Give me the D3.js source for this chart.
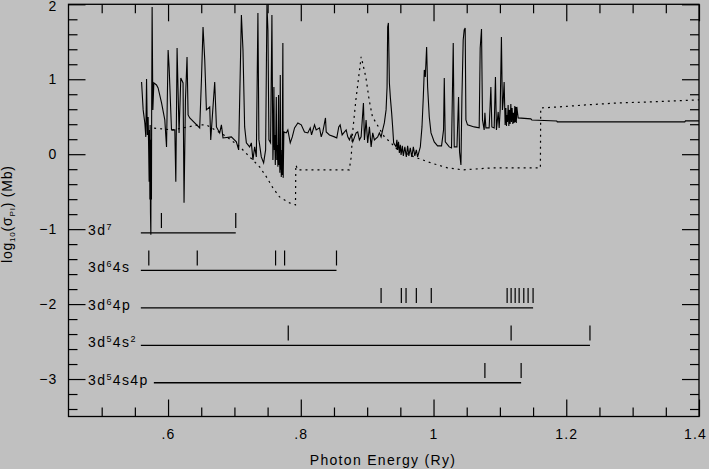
<!DOCTYPE html>
<html>
<head>
<meta charset="utf-8">
<script src="https://cdn.jsdelivr.net/npm/d3@7/dist/d3.min.js"></script>
<style>
  body { margin: 0; background: #c0c0c0; }
  svg { display: block; }
</style>
</head>
<body>
<svg id="chart" width="709" height="469"></svg>
<script>
// photoionization cross section (log10 Mb) vs photon energy (Ry)
var energy = [
  0.5601,0.5625,0.565,0.5665,0.5676,0.5688,0.570,0.5708,0.5715,0.5721,0.5726,0.5730,0.5735,0.5741,0.5745,0.575,0.5753,0.576,0.5771,0.5786,
  0.5826,0.585,0.5902,0.5951,0.5977,0.6001,0.6016,0.6052,0.6102,0.6117,0.6136,0.6166,0.6192,0.6226,0.6241,
  0.6262,0.6286,0.6302,0.6327,0.6477,0.6503,0.6527,0.6553,0.6578,0.6628,0.6643,0.6703,0.6729,0.6778,0.6804,
  0.6828,0.6954,0.7029,0.7064,0.7105,0.7129,0.7154,0.718,0.7229,0.7255,0.7279,0.7305,0.733,0.7354,0.7369,
  0.7405,0.744,0.747,0.749,0.7505,0.752,0.7545,0.7565,
  0.758,0.7587,0.7595,0.7602,0.7608,0.7616,0.7623,0.7631,0.7638,0.7646,0.7655,0.7665,0.7672,0.7678,0.7685,0.7691,0.7697,0.7702,0.7706,0.7712,0.7718,0.773,0.7735,0.7745,
  0.7781,0.7805,0.7841,0.7872,0.7906,0.7956,0.8007,0.8056,0.8106,0.8142,
  0.8162,0.8207,0.8232,0.8282,0.8308,0.8332,0.8372,0.8383,0.8432,0.8508,0.8542,0.8572,0.8593,0.8623,0.8647,
  0.8684,0.8708,0.8733,0.8759,0.8783,0.8834,0.8858,0.8883,0.8909,0.8944,0.8959,0.8984,0.9008,0.9034,0.906,
  0.9084,0.9109,0.9159,0.9184,0.921,0.9234,0.9259,0.9285,0.93,0.9309,0.932,0.9335,0.935,0.9369,0.9384,
  0.9399,0.9435,0.9448,0.9459,0.9473,0.9485,0.95,0.9511,0.953,0.9545,0.9568,0.959,0.961,0.9628,0.965,
  0.9673,0.9696,0.9718,0.9741,0.976,0.9801,0.9826,0.9846,0.9861,0.9876,0.9896,0.9911,0.9936,0.9962,1.0011,
  1.0061,1.0121,1.0151,1.0162,1.0177,1.0237,1.0271,1.0297,1.0312,1.0353,1.0377,1.0392,1.0413,1.0428,1.0447,
  1.0462,1.0477,1.0488,1.0512,1.0613,1.0688,1.0703,1.0723,1.0738,1.0763,1.0774,1.0789,1.0838,1.0853,1.0864,
  1.0879,1.0914,1.0933,1.0948,1.0974,1.0989,1.1004,1.1023,1.1038,1.1049,1.1064,
  1.1079,1.109,1.1099,1.1105,1.1114,1.1124,1.1135,1.1144,1.1154,1.1165,1.1174,1.1184,1.1195,1.1204,1.1214,1.1225,1.1232,1.124,1.1247,1.1255,1.1275,
  1.1466,1.1481,1.1856,1.1865,1.3786,1.3796,1.4];
var logSigma = [
  0.964,0.591,0.417,0.231,1.004,0.257,0.497,0.057,-0.369,0.324,-0.604,0.391,-0.778,-1.076,0.191,-0.604,0.591,1.964,0.591,0.951,
  0.924,0.884,0.684,0.457,0.097,1.391,1.164,0.324,0.324,-0.369,1.417,0.284,1.017,0.951,-0.649,
  0.724,1.297,0.524,0.484,0.351,0.991,1.697,1.257,0.591,0.631,0.191,0.964,0.364,0.284,0.391,
  0.217,0.231,0.164,0.057,1.857,1.391,0.364,0.151,0.097,0.151,-0.076,0.097,-0.036,1.884,0.191,
  -0.036,-0.116,0.057,1.991,1.657,0.191,0.151,1.857,
  -0.076,0.191,0.897,0.057,0.257,-0.143,0.191,0.764,-0.076,0.124,-0.169,0.791,-0.143,0.084,-0.249,1.057,-0.209,0.057,-0.303,-0.009,-0.276,1.484,-0.316,0.297,
  0.284,0.324,0.151,0.231,0.351,0.417,0.391,0.297,0.284,0.351,
  0.257,0.391,0.324,0.351,0.231,0.297,0.484,0.297,0.257,0.231,0.217,0.364,0.391,0.257,0.284,
  0.324,0.231,0.191,0.257,0.164,0.284,0.297,0.191,0.231,0.684,0.191,0.457,0.151,0.364,0.097,
  0.284,0.191,0.231,0.284,0.231,0.324,0.417,0.591,0.897,1.697,1.751,0.951,0.751,0.551,0.364,
  0.151,0.097,0.191,0.057,0.164,0.017,0.124,-0.009,0.111,-0.023,0.097,-0.036,0.111,-0.023,0.084,
  -0.036,0.097,-0.023,0.057,-0.036,0.097,0.364,0.764,1.124,1.031,1.431,0.897,0.497,0.284,0.164,
  0.111,0.111,0.324,1.017,0.164,0.097,0.084,1.484,0.097,0.097,0.764,0.031,-0.143,0.764,1.524,
  1.657,1.684,0.457,0.391,0.364,0.351,1.417,1.671,0.457,0.324,0.551,0.351,0.351,0.657,0.897,
  0.364,0.351,1.031,0.324,0.564,0.351,0.591,1.564,0.591,0.697,0.964,
  0.391,0.617,0.377,0.524,0.431,0.657,0.377,0.591,0.404,0.671,0.431,0.617,0.404,0.551,0.417,0.644,0.431,0.631,0.417,0.631,0.484,
  0.471,0.457,0.444,0.431,0.431,0.444,0.444];

// second (smoother) curve, dotted
var dotEnergy = [0.579,0.607,0.645,0.658,0.688,0.708,0.723,0.738,0.748,0.758,0.768,0.783,0.792,0.7925,
  0.7955,0.873,0.876,0.878,0.883,0.891,0.898,0.903,0.908,0.918,0.926,0.936,0.946,0.971,0.996,1.021,
  1.044,1.088,1.161,1.1615,1.189,1.229,1.279,1.324,1.4];
var dotLogSigma = [0.347,0.324,0.39,0.39,0.235,0.10,-0.036,-0.17,-0.30,-0.45,-0.57,-0.65,-0.676,-0.143,
  -0.209,-0.209,-0.036,0.284,0.724,1.30,1.03,0.724,0.497,0.35,0.23,0.15,0.057,-0.036,-0.116,-0.183,
  -0.209,-0.183,-0.183,0.617,0.631,0.657,0.684,0.697,0.725];

// target configurations with their threshold energies
var levelLabels = [
  [["3d",0],["7",1]],
  [["3d",0],["6",1],["4s",0]],
  [["3d",0],["6",1],["4p",0]],
  [["3d",0],["5",1],["4s",0],["2",1]],
  [["3d",0],["5",1],["4s4p",0]]
];
var levelY = [-1, -1.5, -2, -2.5, -3];
var lineStart = [0.559, 0.559, 0.559, 0.559, 0.5786];
var lineEnd = [0.702, 0.8538, 1.15, 1.2357, 1.132];
var thresholds = [
  [0.590, 0.702],
  [0.571, 0.644, 0.762, 0.7756, 0.8538],
  [0.921, 0.9515, 0.9586, 0.9741, 0.9966, 1.1109, 1.1169, 1.123, 1.129, 1.136, 1.1425, 1.15],
  [0.7811, 1.1169, 1.2357],
  [1.0774, 1.132]
];

var xMajor = [0.6, 0.8, 1, 1.2, 1.4];
var xMinor = [0.5, 0.55, 0.65, 0.7, 0.75, 0.85, 0.9, 0.95, 1.05, 1.1, 1.15, 1.25, 1.3, 1.35];
var yMajor = [-3, -2, -1, 0, 1, 2];
var yMinor = [-3.4, -3.2, -2.8, -2.6, -2.4, -2.2, -1.8, -1.6, -1.4, -1.2, -0.8, -0.6, -0.4, -0.2,
  0.2, 0.4, 0.6, 0.8, 1.2, 1.4, 1.6, 1.8];

var chart = d3.select("#chart");
var font = "Liberation Sans, Arial, Helvetica, sans-serif";

var xScale = d3.scaleLinear().domain([0.45, 1.4]).range([68.5, 699]);
var yScale = d3.scaleLinear().domain([-3.5, 2]).range([416.5, 4.3]);

function fmtX(d) {
  return d === 1 ? "1" : d3.format(".1f")(d).replace(/^0/, "");
}

function styleAxis(g) {
  g.select(".domain").remove();
  g.selectAll("line").attr("stroke", "#000").attr("stroke-width", 1.2);
  g.selectAll("text")
    .attr("fill", "#000")
    .attr("font-size", 14)
    .attr("font-family", font)
    .attr("letter-spacing", 1.2);
}

// ticks on all four sides, pointing inward
chart.append("g").attr("transform", "translate(0,416.5)")
  .call(d3.axisBottom(xScale).tickValues(xMajor).tickSize(-17).tickPadding(13).tickFormat(fmtX))
  .call(styleAxis)
  .selectAll("text").filter(function(d) { return d === 1.4; }).attr("dx", -4);
chart.append("g").attr("transform", "translate(0,416.5)")
  .call(d3.axisBottom(xScale).tickValues(xMinor).tickSize(-9).tickFormat(""))
  .call(styleAxis);
chart.append("g").attr("transform", "translate(0,4.3)")
  .call(d3.axisTop(xScale).tickValues(xMajor).tickSize(-17).tickFormat(""))
  .call(styleAxis);
chart.append("g").attr("transform", "translate(0,4.3)")
  .call(d3.axisTop(xScale).tickValues(xMinor).tickSize(-9).tickFormat(""))
  .call(styleAxis);
chart.append("g").attr("transform", "translate(68.5,0)")
  .call(d3.axisLeft(yScale).tickValues(yMajor).tickSize(-17).tickPadding(11).tickFormat(d3.format("d")))
  .call(styleAxis)
  .selectAll("text").filter(function(d) { return d === 2; }).attr("y", 2);
chart.append("g").attr("transform", "translate(68.5,0)")
  .call(d3.axisLeft(yScale).tickValues(yMinor).tickSize(-9).tickFormat(""))
  .call(styleAxis);
chart.append("g").attr("transform", "translate(699,0)")
  .call(d3.axisRight(yScale).tickValues(yMajor).tickSize(-17).tickFormat(""))
  .call(styleAxis);
chart.append("g").attr("transform", "translate(699,0)")
  .call(d3.axisRight(yScale).tickValues(yMinor).tickSize(-9).tickFormat(""))
  .call(styleAxis);

chart.append("rect")
  .attr("x", xScale(0.45)).attr("y", yScale(2))
  .attr("width", xScale(1.4) - xScale(0.45))
  .attr("height", yScale(-3.5) - yScale(2))
  .attr("fill", "none").attr("stroke", "#000").attr("stroke-width", 1.3);

var line = d3.line()
  .x(function(d) { return xScale(d[0]); })
  .y(function(d) { return yScale(d[1]); });

chart.append("path")
  .datum(d3.zip(dotEnergy, dotLogSigma))
  .attr("d", line)
  .attr("fill", "none")
  .attr("stroke", "#000")
  .attr("stroke-width", 1.2)
  .attr("stroke-dasharray", "2,4");

chart.append("path")
  .datum(d3.zip(energy, logSigma))
  .attr("d", line)
  .attr("fill", "none")
  .attr("stroke", "#000")
  .attr("stroke-width", 1.1)
  .attr("stroke-linejoin", "miter");

// configuration rows
levelY.forEach(function(lv, i) {
  var base = lv - 0.05;
  chart.append("line")
    .attr("x1", xScale(lineStart[i])).attr("x2", xScale(lineEnd[i]))
    .attr("y1", yScale(base)).attr("y2", yScale(base))
    .attr("stroke", "#000").attr("stroke-width", 1.3);

  chart.selectAll(".thr" + i)
    .data(thresholds[i]).enter()
    .append("line")
      .attr("class", "thr" + i)
      .attr("x1", function(d) { return xScale(d); })
      .attr("x2", function(d) { return xScale(d); })
      .attr("y1", yScale(base + 0.065))
      .attr("y2", yScale(base + 0.265))
      .attr("stroke", "#000").attr("stroke-width", 1.2);

  var txt = chart.append("text")
    .attr("x", 88)
    .attr("y", yScale(base) + 2)
    .attr("font-size", 14)
    .attr("font-family", font)
    .attr("letter-spacing", 1.4);
  var up = false;
  levelLabels[i].forEach(function(p) {
    var t = txt.append("tspan").text(p[0]);
    if (p[1] && !up) { t.attr("dy", -5).attr("font-size", 9); up = true; }
    else if (!p[1] && up) { t.attr("dy", 5); up = false; }
    else if (p[1]) { t.attr("font-size", 9); }
  });
});

chart.append("text")
  .text("Photon Energy (Ry)")
  .attr("x", 383)
  .attr("y", 465)
  .attr("text-anchor", "middle")
  .attr("font-size", 14)
  .attr("font-family", font)
  .attr("letter-spacing", 1.3);

var ylab = chart.append("text")
  .attr("transform", "translate(12,263) rotate(-90)")
  .attr("font-size", 14)
  .attr("font-family", font)
  .attr("letter-spacing", 0.8);
ylab.append("tspan").text("log");
ylab.append("tspan").text("10").attr("font-size", 8).attr("dy", 3);
ylab.append("tspan").text("(σ").attr("dy", -3);
ylab.append("tspan").text("PI").attr("font-size", 8).attr("dy", 3);
ylab.append("tspan").text(") (Mb)").attr("dy", -3);
</script>
</body>
</html>
